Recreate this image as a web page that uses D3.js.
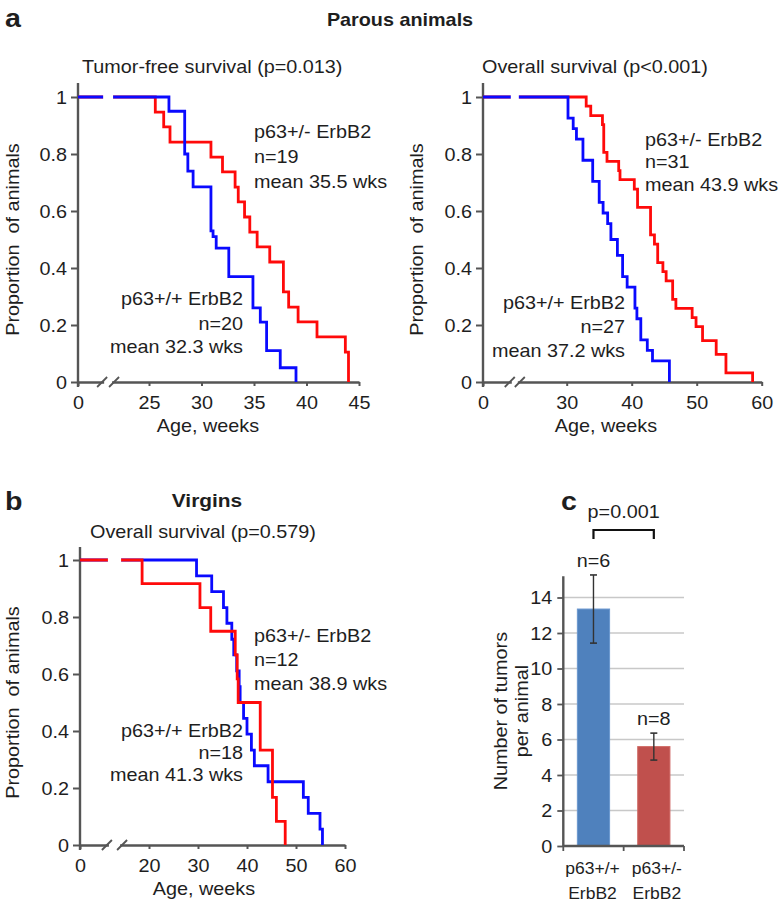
<!DOCTYPE html>
<html><head><meta charset="utf-8">
<script src="https://cdn.jsdelivr.net/npm/d3@7/dist/d3.min.js"></script>
<style>
body{margin:0;background:#fff;}
svg text{font-family:"Liberation Sans",Arial,Helvetica,sans-serif;fill:#1e1e1e;}
</style></head><body>
<svg id="chart" width="783" height="912"></svg>
<script>
// ---------------- DATA ----------------
const survTicks = [0, 0.2, 0.4, 0.6, 0.8, 1];
const aTfXTicks = [0, 25, 30, 35, 40, 45];
const aOsXTicks = [0, 30, 40, 50, 60];
const bXTicks   = [0, 20, 30, 40, 50, 60];

// Panel a, tumor-free survival (parous)
const aTfBlueWeeks = [0, 26.9, 28.4, 28.7, 29.2, 30.9, 31.1, 31.4, 32.6, 34.9, 35.6, 36.2, 37.5, 39];
const aTfBlueSurv  = [1, 0.95, 0.80, 0.74, 0.685, 0.53, 0.51, 0.47, 0.37, 0.26, 0.21, 0.11, 0.05, 0];
const aTfRedWeeks  = [0, 25.6, 26.4, 27, 30.9, 32, 33.2, 33.5, 34.1, 34.6, 35.3, 36.5, 37.8, 38.3, 39.2, 41, 43.7, 44];
const aTfRedSurv   = [1, 0.947, 0.895, 0.842, 0.789, 0.737, 0.684, 0.632, 0.579, 0.526, 0.474, 0.421, 0.316, 0.263, 0.211, 0.158, 0.105, 0];

// Panel a, overall survival (parous)
const aOsBlueWeeks = [0, 30.2, 31, 31.5, 32.5, 34, 35, 35.6, 36.3, 36.8, 37.8, 38.6, 39.3, 40.5, 40.8, 41.4, 42.4, 43.2, 45.8];
const aOsBlueSurv  = [1, 0.926, 0.889, 0.852, 0.778, 0.704, 0.630, 0.593, 0.556, 0.5, 0.444, 0.370, 0.333, 0.259, 0.222, 0.148, 0.111, 0.074, 0];
const aOsRedWeeks  = [0, 33, 33.7, 35.5, 35.7, 36.2, 38, 38.2, 40.4, 40.9, 42.9, 43.5, 44, 44.8, 45.3, 46.3, 46.8, 49.3, 49.9, 50.9, 53, 54.5, 58.6];
const aOsRedSurv   = [1, 0.968, 0.935, 0.903, 0.806, 0.774, 0.742, 0.710, 0.677, 0.613, 0.516, 0.484, 0.419, 0.387, 0.355, 0.290, 0.258, 0.226, 0.194, 0.145, 0.097, 0.032, 0];

// Panel b, overall survival (virgins)
const bBlueWeeks = [0, 29.7, 32.8, 35.2, 35.9, 36.9, 37.3, 37.9, 38.4, 38.6, 39.3, 40, 40.9, 41.5, 44.3, 51.5, 52.5, 54.9, 55.4];
const bBlueSurv  = [1, 0.944, 0.889, 0.833, 0.778, 0.722, 0.667, 0.611, 0.556, 0.5, 0.444, 0.389, 0.333, 0.278, 0.222, 0.167, 0.111, 0.056, 0];
const bRedWeeks  = [0, 18, 30.4, 32.6, 37.6, 38, 38.2, 42.7, 45.2, 46, 47.8];
const bRedSurv   = [1, 0.917, 0.833, 0.75, 0.667, 0.583, 0.5, 0.333, 0.167, 0.083, 0];

// Panel c
const cCategories = [["p63+/+", "ErbB2"], ["p63+/-", "ErbB2"]];
const cMeans  = [13.35, 5.6];
const cErrors = [1.92, 0.76];
const cNs     = ["n=6", "n=8"];
const cYTicks = [0, 2, 4, 6, 8, 10, 12, 14];
const cPValue = "p=0.001";

// ---------------- DRAWING ----------------
const SX = 1.1;           // horizontal stretch of the reference typeface
const FS = 18;
const RED = "#ff0a0a", BLUE = "#0a0aff", AXIS = "#555";
const svg = d3.select("#chart");

function txt(g, x, y, s, anchor, opts = {}) {
  const t = g.append("text")
    .attr("transform", `translate(${x},${y}) ${opts.rotate ? "rotate(-90) " : ""}scale(${opts.sx || SX},1)`)
    .attr("text-anchor", anchor || "start")
    .style("font-size", (opts.size || FS) + "px")
    .style("white-space", "pre")
    .text(s);
  if (opts.bold) t.style("font-weight", "bold");
  return t;
}

function kmPanel(cfg) {
  const g = svg.append("g");
  const x = d3.scaleLinear().domain([0, cfg.xTicks[1], cfg.xTicks[cfg.xTicks.length - 1]])
    .range([cfg.x0, cfg.xFirst, cfg.xMax]);
  const y = d3.scaleLinear().domain([0, 1]).range([cfg.y0, cfg.y1]);

  // y axis
  const ya = g.append("g").attr("transform", `translate(${cfg.x0},0)`)
    .call(d3.axisLeft(y).tickValues(survTicks)
      .tickFormat(d => d === 0 ? "0" : d === 1 ? "1" : d3.format(".1f")(d))
      .tickSize(7).tickPadding(3).tickSizeOuter(0));
  ya.select(".domain").remove();
  ya.append("line").attr("x1", 0).attr("x2", 0).attr("y1", cfg.axisTop).attr("y2", y(0) + 5)
    .attr("stroke", AXIS).attr("stroke-width", 2.4);
  ya.selectAll(".tick line").attr("stroke", AXIS).attr("stroke-width", 2);
  ya.selectAll(".tick text").style("font-size", FS + "px").attr("fill", "#1e1e1e")
    .attr("transform", `scale(${SX},1)`).attr("dy", "0.36em");

  // x axis
  const xa = g.append("g").attr("transform", `translate(0,${y(0)})`)
    .call(d3.axisBottom(x).tickValues(cfg.xTicks).tickSize(4).tickSizeOuter(0));
  xa.select(".domain").attr("stroke", AXIS).attr("stroke-width", 2.4);
  xa.selectAll(".tick line").attr("stroke", AXIS).attr("stroke-width", 2);
  xa.selectAll(".tick text").style("font-size", FS + "px").attr("fill", "#1e1e1e")
    .attr("y", 14).attr("dy", "0.71em").attr("transform", `scale(${SX},1)`);

  // axis break marks
  const bx0 = x(cfg.breakAt[0]), bx1 = x(cfg.breakAt[1]);
  xa.append("line").attr("x1", bx0 + 2).attr("x2", bx1 - 2).attr("y1", 0).attr("y2", 0)
    .attr("stroke", "#fff").attr("stroke-width", 4);
  [bx0, bx1].forEach(bx => {
    xa.append("line").attr("x1", bx - 5).attr("x2", bx + 5).attr("y1", 5).attr("y2", -5)
      .attr("stroke", AXIS).attr("stroke-width", 1.8);
  });

  // survival curves
  const line = d3.line().x(d => x(d[0])).y(d => y(d[1])).curve(d3.curveStepAfter);
  cfg.series.forEach(s => {
    const pts = s.weeks.map((w, i) => [w, s.surv[i]]);
    g.append("path").datum(pts).attr("d", line)
      .attr("fill", "none").attr("stroke", s.color).attr("stroke-width", 2.8)
      .attr("stroke-linejoin", "miter");
  });
  // gap in the flat line across the axis break
  g.append("line").attr("x1", x(cfg.breakAt[0]) + 1).attr("x2", x(cfg.breakAt[1]) - 1)
    .attr("y1", y(1)).attr("y2", y(1)).attr("stroke", "#fff").attr("stroke-width", 6);

  // texts
  txt(g, cfg.subtitle[1], cfg.subtitle[2], cfg.subtitle[0], "start");
  cfg.labels.forEach(L => L.lines.forEach((s, i) => txt(g, L.x, L.ys[i], s, L.anchor)));
  txt(g, cfg.yTitleX, (y(0) + y(1)) / 2, "Proportion  of animals", "middle", { rotate: true });
  txt(g, cfg.xTitle[0], cfg.xTitle[1], "Age, weeks", "middle");
}

// Panel a - tumor-free
kmPanel({
  x0: 78, xFirst: 149, xMax: 359, y0: 382, y1: 97, axisTop: 83,
  xTicks: aTfXTicks, breakAt: [8.5, 12.7],
  series: [
    { weeks: aTfRedWeeks, surv: aTfRedSurv, color: RED },
    { weeks: aTfBlueWeeks, surv: aTfBlueSurv, color: BLUE }
  ],
  subtitle: ["Tumor-free survival (p=0.013)", 82, 73],
  labels: [
    { x: 254, ys: [138, 163, 188], lines: ["p63+/- ErbB2", "n=19", "mean 35.5 wks"], anchor: "start" },
    { x: 243, ys: [305, 330, 353], lines: ["p63+/+ ErbB2", "n=20", "mean 32.3 wks"], anchor: "end" }
  ],
  yTitleX: 19, xTitle: [208, 432]
});

// Panel a - overall
kmPanel({
  x0: 483, xFirst: 566.7, xMax: 761.7, y0: 382, y1: 97, axisTop: 83,
  xTicks: aOsXTicks, breakAt: [9.6, 13.2],
  series: [
    { weeks: aOsRedWeeks, surv: aOsRedSurv, color: RED },
    { weeks: aOsBlueWeeks, surv: aOsBlueSurv, color: BLUE }
  ],
  subtitle: ["Overall survival (p<0.001)", 482, 73],
  labels: [
    { x: 645, ys: [146, 168, 191], lines: ["p63+/- ErbB2", "n=31", "mean 43.9 wks"], anchor: "start" },
    { x: 625, ys: [309, 333, 357], lines: ["p63+/+ ErbB2", "n=27", "mean 37.2 wks"], anchor: "end" }
  ],
  yTitleX: 423, xTitle: [606, 432]
});

// Panel b - virgins
kmPanel({
  x0: 80, xFirst: 149, xMax: 345, y0: 845, y1: 560, axisTop: 547,
  xTicks: bXTicks, breakAt: [7.8, 12.2],
  series: [
    { weeks: bBlueWeeks, surv: bBlueSurv, color: BLUE },
    { weeks: bRedWeeks, surv: bRedSurv, color: RED }
  ],
  subtitle: ["Overall survival (p=0.579)", 90, 538],
  labels: [
    { x: 254, ys: [642, 666, 690], lines: ["p63+/- ErbB2", "n=12", "mean 38.9 wks"], anchor: "start" },
    { x: 243, ys: [737, 759, 781], lines: ["p63+/+ ErbB2", "n=18", "mean 41.3 wks"], anchor: "end" }
  ],
  yTitleX: 19, xTitle: [204, 895]
});

// Headers
txt(svg, 5, 27, "a", "start", { bold: true, size: 26 });
txt(svg, 400, 26, "Parous animals", "middle", { bold: true, size: 18 });
txt(svg, 5, 510, "b", "start", { bold: true, size: 26 });
txt(svg, 207, 507, "Virgins", "middle", { bold: true, size: 19 });
txt(svg, 561, 510, "c", "start", { bold: true, size: 26 });

// Panel c - bar chart
(function () {
  const g = svg.append("g");
  const x = d3.scaleBand().domain(d3.range(cCategories.length)).range([563.3, 684])
    .paddingInner(0.466).paddingOuter(0.233);
  const y = d3.scaleLinear().domain([0, 14]).range([846, 597.5]);
  const axisTopValue = 15.2;

  // gridlines
  g.selectAll("line.grid").data(cYTicks.filter(d => d > 0)).join("line")
    .attr("class", "grid").attr("x1", x.range()[0]).attr("x2", x.range()[1])
    .attr("y1", d => y(d)).attr("y2", d => y(d)).attr("stroke", "#c8c8c8").attr("stroke-width", 1.6);

  // bars
  const colors = ["#4f81bd", "#c0504d"];
  const strokes = ["#6a97cf", "#d06a66"];
  g.selectAll("rect.bar").data(cMeans).join("rect").attr("class", "bar")
    .attr("x", (d, i) => x(i)).attr("width", x.bandwidth())
    .attr("y", d => y(d)).attr("height", d => y(0) - y(d))
    .attr("fill", (d, i) => colors[i]).attr("stroke", (d, i) => strokes[i]).attr("stroke-width", 1);

  // error bars
  cMeans.forEach((m, i) => {
    const cx = x(i) + x.bandwidth() / 2;
    g.append("line").attr("x1", cx).attr("x2", cx).attr("y1", y(m - cErrors[i])).attr("y2", y(m + cErrors[i]))
      .attr("stroke", "#333").attr("stroke-width", 1.4);
    [m - cErrors[i], m + cErrors[i]].forEach(v =>
      g.append("line").attr("x1", cx - 3.5).attr("x2", cx + 3.5).attr("y1", y(v)).attr("y2", y(v))
        .attr("stroke", "#333").attr("stroke-width", 1.6));
    txt(g, cx, y(m + cErrors[i]) - 8, cNs[i], "middle");
    txt(g, cx + (i === 0 ? -1 : 3), 874, cCategories[i][0], "middle", { size: 17, sx: 1.03 });
    txt(g, cx + (i === 0 ? -1 : 3), 899, cCategories[i][1], "middle", { size: 17, sx: 1.03 });
  });

  // y axis
  const ya = g.append("g").attr("transform", `translate(${x.range()[0]},0)`)
    .call(d3.axisLeft(y).tickValues(cYTicks).tickSize(6).tickPadding(4).tickSizeOuter(0));
  ya.select(".domain").remove();
  ya.append("line").attr("y1", y(axisTopValue)).attr("y2", y(0)).attr("stroke", AXIS).attr("stroke-width", 2.4);
  ya.selectAll(".tick line").attr("stroke", AXIS).attr("stroke-width", 1.8);
  ya.selectAll(".tick text").style("font-size", FS + "px").attr("fill", "#1e1e1e")
    .attr("transform", `scale(${SX},1)`).attr("dy", "0.36em");

  // x axis with boundary ticks
  const xa = g.append("g").attr("transform", `translate(0,${y(0)})`);
  xa.append("line").attr("x1", x.range()[0]).attr("x2", x.range()[1]).attr("stroke", AXIS).attr("stroke-width", 2.4);
  const bounds = [x.range()[0], (x(0) + x.bandwidth() + x(1)) / 2, x.range()[1]];
  bounds.forEach(b => xa.append("line").attr("x1", b).attr("x2", b).attr("y1", 0).attr("y2", 5)
    .attr("stroke", AXIS).attr("stroke-width", 1.8));

  // significance bracket
  const c0 = x(0) + x.bandwidth() / 2, c1 = x(1) + x.bandwidth() / 2;
  g.append("path").attr("d", `M${c0},539V530H${c1}V539`).attr("fill", "none")
    .attr("stroke", "#111").attr("stroke-width", 2.2);
  txt(g, (c0 + c1) / 2, 518, cPValue, "middle");

  // y title
  txt(g, 507, (y(0) + y(axisTopValue)) / 2, "Number of tumors", "middle", { rotate: true });
  txt(g, 528, (y(0) + y(axisTopValue)) / 2, "per animal", "middle", { rotate: true });
})();
</script>
</body></html>
